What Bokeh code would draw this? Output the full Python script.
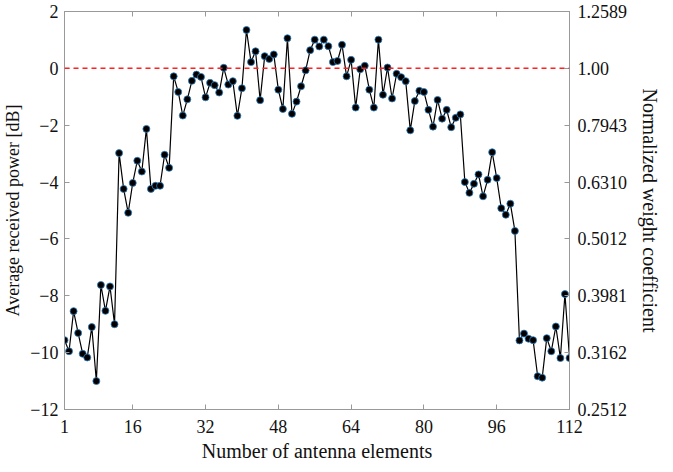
from bokeh.plotting import figure
from bokeh.models import LinearAxis, FixedTicker, Range1d, Span
from bokeh.embed import file_html
from bokeh.resources import INLINE

elements = list(range(1, 113))
power_db = [
    -9.56, -9.95, -8.54, -9.31, -10.04, -10.17, -9.10, -11.00, -7.62, -8.53,
    -7.67, -9.00, -2.98, -4.24, -5.08, -4.03, -3.25, -3.63, -2.13, -4.24,
    -4.13, -4.13, -3.04, -3.50, -0.28, -0.83, -1.66, -1.09, -0.44, -0.22,
    -0.30, -1.02, -0.51, -0.59, -0.85, 0.02, -0.57, -0.45, -1.67, -0.70,
    1.35, 0.22, 0.60, -1.12, 0.43, 0.33, 0.49, -0.75, -1.43, 1.06,
    -1.60, -1.17, -0.63, -0.07, 0.64, 1.01, 0.77, 1.01, 0.78, 0.22,
    0.26, 0.83, -0.28, 0.30, -1.38, -0.03, 0.09, -0.75, -1.38, 1.01,
    -0.93, 0.03, -1.06, -0.19, -0.31, -0.45, -2.18, -1.15, -0.79, -0.83,
    -1.46, -2.05, -1.11, -1.77, -1.46, -2.07, -1.74, -1.62, -4.00, -4.38,
    -4.06, -3.73, -4.50, -3.92, -2.95, -3.86, -4.92, -5.15, -4.76, -5.72,
    -9.57, -9.33, -9.51, -9.56, -10.83, -10.88, -9.49, -9.95, -9.08, -10.19,
    -7.94, -10.19,
]
x_ticks = [1, 16, 32, 48, 64, 80, 96, 112]
y_ticks = [-12, -10, -8, -6, -4, -2, 0, 2]
right_labels = ["0.2512", "0.3162", "0.3981", "0.5012", "0.6310", "0.7943", "1.00", "1.2589"]

FONT = "'Liberation Serif', 'Times New Roman', serif"

p = figure(width=673, height=472, output_backend="svg", toolbar_location=None,
           x_range=Range1d(1, 112), y_range=Range1d(-12, 2),
           min_border_left=64, min_border_right=104, min_border_top=11, min_border_bottom=63)
p.grid.visible = False
p.outline_line_color = "#999999"
p.outline_line_width = 1
p.background_fill_color = "white"
p.border_fill_color = "white"

p.add_layout(Span(location=0, dimension="width", line_color="#ff2020",
                  line_dash="5 4", line_width=1.5))
p.line(elements, power_db, line_color="black", line_width=1.2)
p.scatter(elements, power_db, size=7, fill_color="black", line_color="#2f7fbf", line_width=0.8)

def style(ax, labels=True):
    ax.axis_line_color = "#999999"
    ax.major_tick_line_color = "#999999"
    ax.major_tick_in = 5
    ax.major_tick_out = 0
    ax.minor_tick_line_color = None
    ax.major_label_text_font = FONT
    ax.major_label_text_font_size = "18px"
    ax.major_label_text_color = "#111111"
    ax.axis_label_text_font = FONT
    ax.axis_label_text_font_size = "18px"
    ax.axis_label_text_font_style = "normal"
    ax.axis_label_text_color = "#111111"
    if not labels:
        ax.major_label_text_color = None

xa = p.xaxis[0]
xa.ticker = FixedTicker(ticks=x_ticks)
xa.axis_label = "Number of antenna elements"
style(xa)
xa.axis_label_text_font_size = "20px"
xa.major_label_standoff = 10
xa.axis_label_standoff = 4

ya = p.yaxis[0]
ya.ticker = FixedTicker(ticks=y_ticks)
ya.axis_label = "Average received power [dB]"
style(ya)
ya.major_label_standoff = 6
ya.axis_label_standoff = 4

top = LinearAxis(ticker=FixedTicker(ticks=x_ticks))
style(top, labels=False)
p.add_layout(top, "above")

ra = LinearAxis(ticker=FixedTicker(ticks=y_ticks), axis_label="Normalized weight coefficient")
ra.major_label_overrides = {t: l for t, l in zip(y_ticks, right_labels)}
style(ra)
ra.axis_label_text_font_size = "20px"
ra.major_label_standoff = 8
ra.axis_label_standoff = 9
p.add_layout(ra, "right")

open("out.html", "w").write(file_html(p, INLINE))
